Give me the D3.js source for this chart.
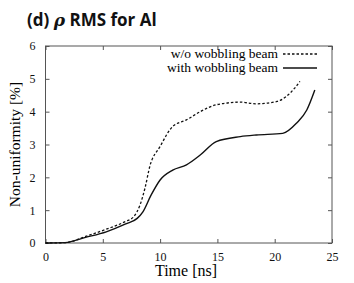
<!DOCTYPE html>
<html>
<head>
<meta charset="utf-8">
<script src="https://cdn.jsdelivr.net/npm/d3@7"></script>
<style>
  body { margin: 0; background: #fff; }
  svg { display: block; }
</style>
</head>
<body>
<div id="chart"></div>
<script>
// values
const xTicks = [0, 5, 10, 15, 20, 25];
const yTicks = [0, 1, 2, 3, 4, 5, 6];

const withoutWobbling = [
  [0, 0], [1.7, 0.01], [3.5, 0.2], [5.3, 0.42], [7.0, 0.66], [7.7, 0.8], [8.25, 1.16],
  [8.7, 1.7], [9.1, 2.33], [10.0, 2.94], [11.1, 3.55], [12.3, 3.75], [13.5, 4.0],
  [14.9, 4.21], [17.0, 4.29], [18.4, 4.24], [20.2, 4.31], [21.0, 4.46], [21.7, 4.7], [22.2, 4.92]
];
const withWobbling = [
  [0, 0], [1.7, 0.01], [3.5, 0.17], [5.3, 0.34], [7.0, 0.58], [8.0, 0.75], [8.5, 0.95],
  [9.2, 1.45], [10.0, 1.92], [11.1, 2.22], [12.3, 2.38], [13.5, 2.68], [14.9, 3.09],
  [17.0, 3.24], [18.4, 3.29], [20.7, 3.34], [21.9, 3.65], [22.8, 4.05], [23.5, 4.66]
];

const width = 354, height = 283;
const margin = { left: 45.5, right: 22, top: 46, bottom: 40 };
const frameColor = "#555";

const svg = d3.select("#chart").append("svg")
  .attr("width", width)
  .attr("height", height);

const x = d3.scaleLinear().domain([0, 25]).range([margin.left, width - margin.right]);
const y = d3.scaleLinear().domain([0, 6]).range([height - margin.bottom, margin.top]);

// title
const title = svg.append("text")
  .attr("x", 27)
  .attr("y", 26)
  .style("font-family", "'Open Sans', 'Noto Sans', sans-serif")
  .style("font-weight", "bold")
  .style("font-size", "17px")
  .attr("fill", "#111");
title.append("tspan").text("(d) ");
title.append("tspan").style("font-style", "italic").style("font-family", "'DejaVu Serif', serif").text("ρ");
title.append("tspan").text(" RMS for Al");

const serif = "'Liberation Serif', 'DejaVu Serif', serif";

// frame
svg.append("rect")
  .attr("x", x(0)).attr("y", y(6))
  .attr("width", x(25) - x(0)).attr("height", y(0) - y(6))
  .attr("fill", "none")
  .attr("stroke", frameColor)
  .attr("stroke-width", 1);

// axes with inward ticks
const axBottom = svg.append("g")
  .attr("transform", `translate(0,${y(0)})`)
  .call(d3.axisBottom(x).tickValues(xTicks).tickSize(-4).tickPadding(9).tickFormat(d3.format("d")));
const axTop = svg.append("g")
  .attr("transform", `translate(0,${y(6)})`)
  .call(d3.axisTop(x).tickValues(xTicks).tickSize(-4).tickFormat(""));
const axLeft = svg.append("g")
  .attr("transform", `translate(${x(0)},0)`)
  .call(d3.axisLeft(y).tickValues(yTicks).tickSize(-4).tickPadding(10).tickFormat(d3.format("d")));
const axRight = svg.append("g")
  .attr("transform", `translate(${x(25)},0)`)
  .call(d3.axisRight(y).tickValues(yTicks).tickSize(-4).tickFormat(""));

[axBottom, axTop, axLeft, axRight].forEach(g => {
  g.select(".domain").remove();
  g.selectAll("line").attr("stroke", frameColor);
  g.selectAll("text")
    .style("font-family", serif)
    .style("font-size", "12px")
    .attr("fill", "#111");
});

// axis labels
svg.append("text")
  .attr("x", 186)
  .attr("y", 276)
  .attr("text-anchor", "middle")
  .style("font-family", serif)
  .style("font-size", "16px")
  .text("Time [ns]");

svg.append("text")
  .attr("transform", `translate(20,${(y(0) + y(6)) / 2}) rotate(-90)`)
  .attr("text-anchor", "middle")
  .style("font-family", serif)
  .style("font-size", "15.5px")
  .text("Non-uniformity [%]");

// curves
const line = d3.line()
  .x(d => x(d[0]))
  .y(d => y(d[1]))
  .curve(d3.curveMonotoneX);

svg.append("path")
  .datum(withoutWobbling)
  .attr("d", line)
  .attr("fill", "none")
  .attr("stroke", "#111")
  .attr("stroke-width", 1.3)
  .attr("stroke-dasharray", "2.5,2");

svg.append("path")
  .datum(withWobbling)
  .attr("d", line)
  .attr("fill", "none")
  .attr("stroke", "#111")
  .attr("stroke-width", 1.4);

// legend
const legend = [
  { label: "w/o wobbling beam", dash: "2.5,2" },
  { label: "with wobbling beam", dash: null }
];
const lg = svg.selectAll(".legend")
  .data(legend)
  .enter().append("g")
  .attr("transform", (d, i) => `translate(0,${58 + i * 14})`);
lg.append("text")
  .attr("x", 278)
  .attr("text-anchor", "end")
  .style("font-family", serif)
  .style("font-size", "13.5px")
  .text(d => d.label);
lg.append("line")
  .attr("x1", 283).attr("x2", 317)
  .attr("y1", -4).attr("y2", -4)
  .attr("stroke", "#111")
  .attr("stroke-width", 1.3)
  .attr("stroke-dasharray", d => d.dash);
</script>
</body>
</html>
